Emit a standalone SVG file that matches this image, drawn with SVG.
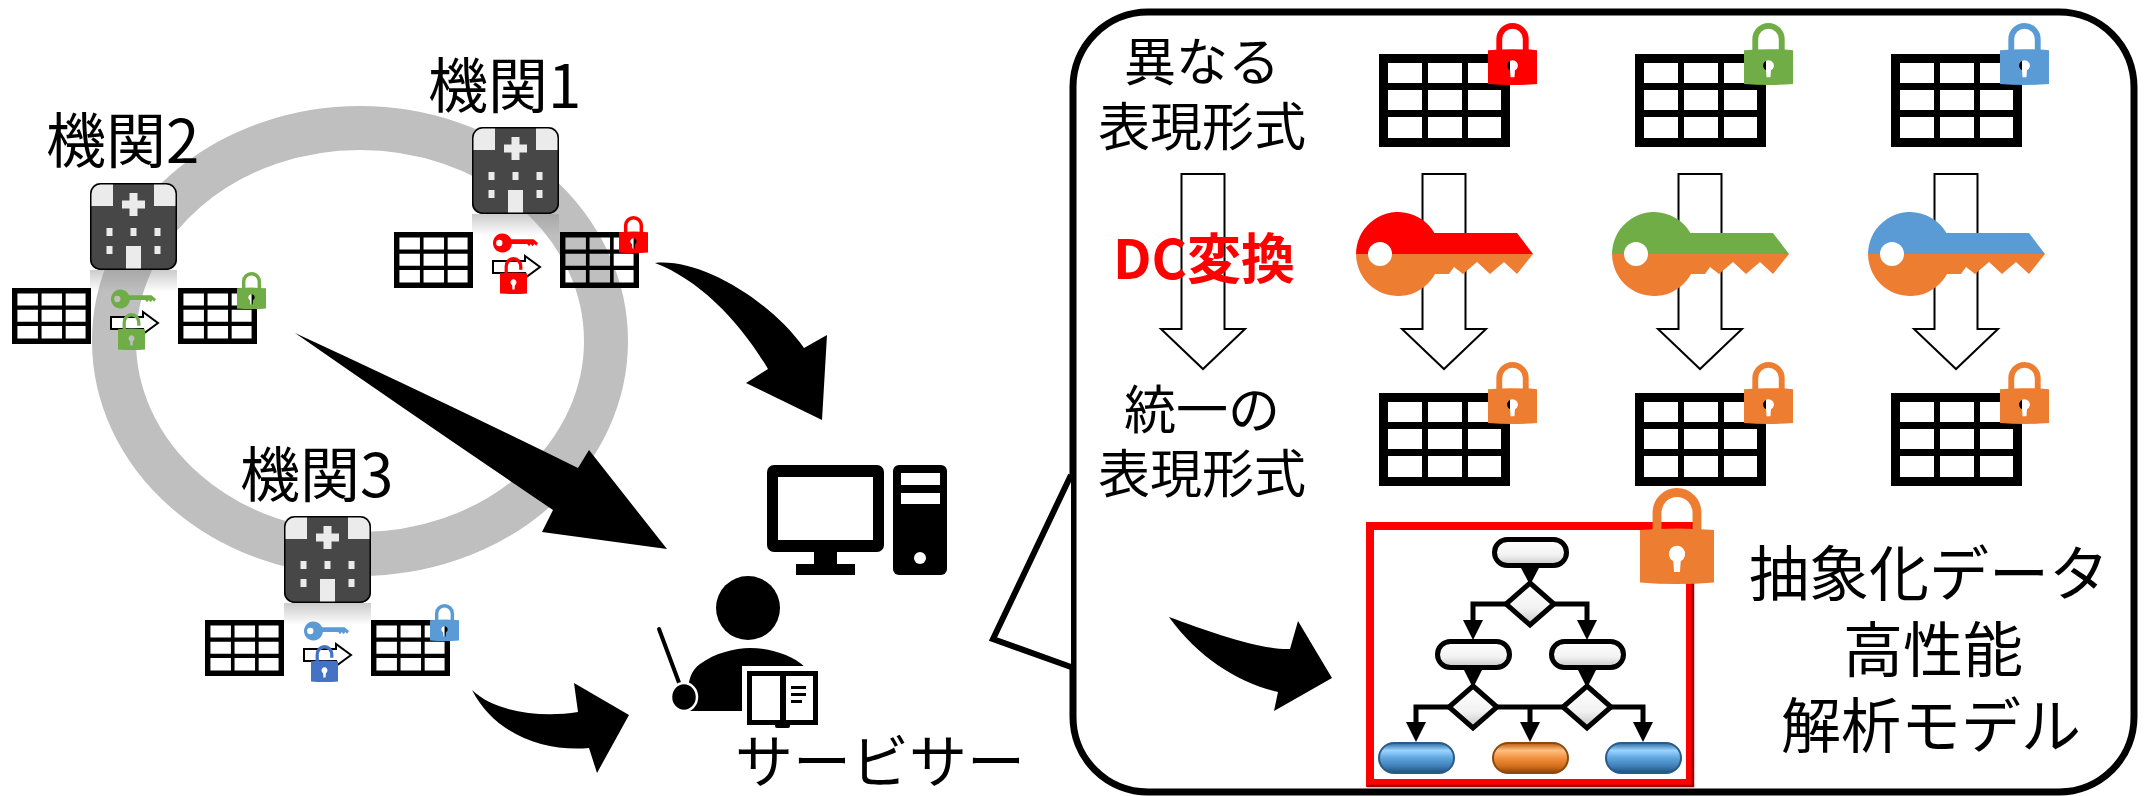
<svg xmlns="http://www.w3.org/2000/svg" xmlns:xlink="http://www.w3.org/1999/xlink" width="2149" height="796" viewBox="0 0 2149 796">
<style>
  .jp { font-family: "Noto Sans CJK JP", "Noto Sans", sans-serif; fill: #000; }
  .lbl { font-size: 60px; }
  .inner { font-size: 52px; text-anchor: middle; }
  .model-txt { font-size: 60px; text-anchor: middle; }
  .dc { font-size: 54px; font-weight: 700; fill: #ff0000; text-anchor: middle; }
  .big { fill: #000; }
  .fc { stroke: #000; stroke-width: 5; }
</style>
<defs>
  <!-- 3x3 data table, cells left open -->
  <symbol id="tbl" viewBox="0 0 131 93" preserveAspectRatio="none">
    <path fill="#000" fill-rule="evenodd" d="M0,0 H131 V93 H0 Z
      M9,9 H43 V29 H9 Z M49,9 H83 V29 H49 Z M89,9 H122 V29 H89 Z
      M9,36 H43 V56 H9 Z M49,36 H83 V56 H49 Z M89,36 H122 V56 H89 Z
      M9,63 H43 V84 H9 Z M49,63 H83 V84 H49 Z M89,63 H122 V84 H89 Z"/>
  </symbol>

  <!-- hospital building -->
  <clipPath id="bclip"><rect x="0" y="0" width="87" height="87" rx="10"/></clipPath>
  <symbol id="bld" viewBox="0 0 87 87" overflow="visible">
    <g clip-path="url(#bclip)">
      <rect width="87" height="87" fill="#474747"/>
      <rect width="23" height="23" fill="#ebebeb"/>
      <rect x="64" width="23" height="23" fill="#ebebeb"/>
      <rect x="36" y="63" width="15" height="24" fill="#ebebeb"/>
    </g>
    <rect x="0.75" y="0.75" width="85.5" height="85.5" rx="10" fill="none" stroke="#000" stroke-width="1.5"/>
    <path fill="#ebebeb" d="M39.5,10 h8 v7.5 h7.5 v8 h-7.5 v7.5 h-8 v-7.5 h-7.5 v-8 h7.5 Z"/>
    <g fill="#ebebeb">
      <rect x="16.5" y="45" width="6" height="8"/>
      <rect x="40.5" y="45" width="6" height="8"/>
      <rect x="64.5" y="45" width="6" height="8"/>
      <rect x="16.5" y="63" width="6" height="8"/>
      <rect x="64.5" y="63" width="6" height="8"/>
    </g>
  </symbol>
  <linearGradient id="refl" x1="0" y1="0" x2="0" y2="1">
    <stop offset="0" stop-color="#8c8c8c" stop-opacity="0.45"/>
    <stop offset="1" stop-color="#8c8c8c" stop-opacity="0"/>
  </linearGradient>

  <!-- small hollow right arrow -->
  <symbol id="rarr" viewBox="0 0 49 24" preserveAspectRatio="none" overflow="visible">
    <path d="M1,6 H33 V1 L48,12 L33,23 V18 H1 Z" fill="#fff" stroke="#000" stroke-width="2"/>
  </symbol>

  <!-- large hollow down arrow -->
  <symbol id="darr" viewBox="0 0 86 197" overflow="visible">
    <path d="M21.5,1 H64.5 V156 H85 L43,196 L1,156 H21.5 Z" fill="#fff" stroke="#000" stroke-width="2"/>
  </symbol>

  <!-- small solid key -->
  <symbol id="skey" viewBox="0 0 100 44" preserveAspectRatio="none">
    <path fill-rule="evenodd" d="M40.4,14 H90 L100,22 L96,28 L92,24 L88,29 L84,24 L80,29 L76,24 H41.9 A21,21 0 1 1 40.4,14 Z
      M7,22 a7,7 0 1 0 14,0 a7,7 0 1 0 -14,0 Z"/>
  </symbol>

  <!-- large two-tone key -->
  <clipPath id="kTop"><rect x="-5" y="-5" width="190" height="47"/></clipPath>
  <clipPath id="kBot"><rect x="-5" y="42" width="190" height="50"/></clipPath>
  <path id="bkeyShape" fill-rule="evenodd" d="M78.4,21 L161,21 L177,42 L161,62 L148,50 L134,62 L121,50 L107,62 L98,55 L93,62 L79,62 A42,42 0 1 1 78.4,21 Z
      M12,42 a12,12 0 1 0 24,0 a12,12 0 1 0 -24,0 Z"/>
  <symbol id="bkey" viewBox="0 0 177 85" overflow="visible">
    <use href="#bkeyShape" fill="currentColor" clip-path="url(#kTop)"/>
    <use href="#bkeyShape" fill="#ed7d31" clip-path="url(#kBot)"/>
  </symbol>

  <!-- padlocks -->
  <symbol id="lockC" viewBox="0 0 50 64" preserveAspectRatio="none" overflow="visible">
    <path d="M11.5,30 V16.5 A13.5,13.5 0 0 1 38.5,16.5 V30" fill="none" stroke="currentColor" stroke-width="6"/>
    <path fill="currentColor" fill-rule="evenodd" d="M0,28 Q25,26 50,28 V63 Q25,65 0,63 Z
      M22.5,48.9 A5.5,5.5 0 1 1 27.5,48.9 L27,56 H23 Z"/>
  </symbol>
  <symbol id="lockO" viewBox="0 0 50 64" preserveAspectRatio="none" overflow="visible">
    <path d="M11.5,31 V16.5 A13.5,13.5 0 0 1 38.5,16.5 V22" fill="none" stroke="currentColor" stroke-width="6"/>
    <path fill="currentColor" fill-rule="evenodd" d="M0,28 Q25,26 50,28 V63 Q25,65 0,63 Z
      M22.5,48.9 A5.5,5.5 0 1 1 27.5,48.9 L27,56 H23 Z"/>
  </symbol>

  <!-- flowchart fills -->
  <linearGradient id="wg" x1="0" y1="0" x2="0" y2="1">
    <stop offset="0" stop-color="#ffffff"/>
    <stop offset="0.6" stop-color="#f2f2f2"/>
    <stop offset="1" stop-color="#c4c4c4"/>
  </linearGradient>
  <linearGradient id="bg" x1="0" y1="0" x2="0" y2="1">
    <stop offset="0" stop-color="#2d6aa0"/>
    <stop offset="0.25" stop-color="#9ad4ff"/>
    <stop offset="0.5" stop-color="#5fa6de"/>
    <stop offset="0.8" stop-color="#3c7ab3"/>
    <stop offset="1" stop-color="#1f4e79"/>
  </linearGradient>
  <linearGradient id="og" x1="0" y1="0" x2="0" y2="1">
    <stop offset="0" stop-color="#b85a10"/>
    <stop offset="0.25" stop-color="#ffbf80"/>
    <stop offset="0.5" stop-color="#f29240"/>
    <stop offset="0.8" stop-color="#d06a18"/>
    <stop offset="1" stop-color="#8a4008"/>
  </linearGradient>
</defs>

<rect width="2149" height="796" fill="#fff"/>

<!-- federation ring -->
<ellipse id="ring" cx="360" cy="341" rx="246" ry="213" fill="none" stroke="#bfbfbf" stroke-width="44"/>

<!-- institution 1 -->
<g id="inst1" transform="translate(394,232)">
  <text class="jp lbl" x="34" y="-124">機関1</text>
  <use href="#bld" x="78" y="-105" width="87" height="87"/>
  <rect x="78" y="-18" width="87" height="22" fill="url(#refl)"/>
  <use href="#tbl" x="0" y="0" width="79" height="56"/>
  <use href="#rarr" x="98" y="23" width="49" height="24"/>
  <use href="#skey" x="99" y="1" width="45" height="20" fill="#ff0000"/>
  <use href="#lockO" x="106" y="25" width="27" height="37" color="#ff0000"/>
  <use href="#tbl" x="166" y="0" width="79" height="56"/>
  <use href="#lockC" x="225" y="-16" width="29" height="37" color="#ff0000"/>
</g>

<!-- institution 2 -->
<g id="inst2" transform="translate(12,288)">
  <text class="jp lbl" x="34" y="-125">機関2</text>
  <use href="#bld" x="78" y="-105" width="87" height="87"/>
  <rect x="78" y="-18" width="87" height="22" fill="url(#refl)"/>
  <use href="#tbl" x="0" y="0" width="79" height="56"/>
  <use href="#rarr" x="98" y="23" width="49" height="24"/>
  <use href="#skey" x="99" y="1" width="45" height="20" fill="#70ad47"/>
  <use href="#lockO" x="106" y="25" width="27" height="37" color="#70ad47"/>
  <use href="#tbl" x="166" y="0" width="79" height="56"/>
  <use href="#lockC" x="225" y="-16" width="29" height="37" color="#70ad47"/>
</g>

<!-- institution 3 -->
<g id="inst3" transform="translate(205,620)">
  <text class="jp lbl" x="35" y="-123">機関3</text>
  <use href="#bld" x="79" y="-104" width="87" height="87"/>
  <rect x="79" y="-17" width="87" height="22" fill="url(#refl)"/>
  <use href="#tbl" x="0" y="0" width="79" height="56"/>
  <use href="#rarr" x="98" y="23" width="49" height="24"/>
  <use href="#skey" x="99" y="1" width="45" height="20" fill="#5b9bd5"/>
  <use href="#lockO" x="106" y="25" width="27" height="37" color="#4472c4"/>
  <use href="#tbl" x="166" y="0" width="79" height="56"/>
  <use href="#lockC" x="225" y="-16" width="29" height="37" color="#5b9bd5"/>
</g>

<!-- servicer: computer and analyst -->
<g id="servicer">
  <rect x="767" y="465" width="117" height="87" rx="7" fill="#000"/>
  <rect x="778" y="477" width="95" height="63" fill="#fff"/>
  <rect x="814" y="551" width="23" height="14" fill="#000"/>
  <rect x="796" y="564" width="59" height="11" fill="#000"/>
  <rect x="893" y="465" width="54" height="110" rx="6" fill="#000"/>
  <rect x="901" y="473" width="39" height="12" fill="#fff"/>
  <rect x="901" y="493" width="39" height="11" fill="#fff"/>
  <circle cx="920" cy="558" r="6" fill="#fff"/>

  <circle cx="748" cy="608" r="32" fill="#000"/>
  <path d="M689,711 C686,690 688,672 700,664 C715,653 735,648 750,648 C770,648 792,655 805,667 L805,711 Z" fill="#000"/>
  <line x1="659" y1="629" x2="681" y2="688" stroke="#000" stroke-width="4" stroke-linecap="round"/>
  <ellipse cx="684" cy="697" rx="13" ry="14" fill="#000" stroke="#fff" stroke-width="2.5"/>
  <rect x="742" y="666" width="80" height="62" fill="#fff"/>
  <rect x="747" y="671" width="71" height="54" fill="#000"/>
  <rect x="752" y="676" width="28" height="44" fill="#fff"/>
  <rect x="786" y="676" width="27" height="44" fill="#fff"/>
  <rect x="791" y="686" width="15" height="3" fill="#000"/>
  <rect x="791" y="693" width="15" height="3" fill="#000"/>
  <rect x="791" y="700" width="11" height="3" fill="#000"/>
  <rect x="775" y="723" width="15" height="5" rx="2" fill="#000"/>

  <text class="jp" x="735" y="783" font-size="58">サービサー</text>
</g>

<!-- flow arrows -->
<g id="connectors">
  <path class="big" d="M655,263 C700,258 770,300 804,348 L827,335 L822,420 L746,383 L768,369 C740,322 700,280 655,263 Z"/>
  <path class="big" d="M295,333 Q440,400 578,468 L589,450 L667,549 L542,532 L553,510 Q420,420 295,333 Z"/>
  <path class="big" d="M472,690 C495,712 540,718 578,712 L574,683 L629,715 L597,773 L589,748 C545,752 495,735 472,690 Z"/>
  <path class="big" d="M1169,617 C1210,632 1260,650 1290,649 L1298,621 L1332,678 L1274,711 L1278,692 C1240,683 1200,660 1169,617 Z"/>
</g>

<!-- detail callout -->
<g id="callout">
  <rect x="1073" y="12" width="1061" height="780" rx="75" fill="none" stroke="#000" stroke-width="7"/>
  <polyline points="1071,475 993,639 1071,667" fill="#fff" stroke="#000" stroke-width="6"/>
</g>

<g id="row-labels">
  <text class="jp inner"><tspan x="1202" y="81">異なる</tspan><tspan x="1202" y="146">表現形式</tspan></text>
  <use href="#darr" x="1160" y="173" width="86" height="197"/>
  <text class="jp dc" x="1204" y="279">DC変換</text>
  <text class="jp inner"><tspan x="1202" y="429">統一の</tspan><tspan x="1202" y="493">表現形式</tspan></text>
</g>

<g id="col1">
  <use href="#tbl" x="1379" y="54" width="131" height="93"/>
  <use href="#lockC" x="1488" y="23" width="49" height="62" color="#ff0000"/>
  <use href="#darr" x="1401" y="173" width="86" height="197"/>
  <use href="#bkey" x="1356" y="212" width="177" height="85" color="#ff0000"/>
  <use href="#tbl" x="1379" y="393" width="131" height="93"/>
  <use href="#lockC" x="1488" y="362" width="49" height="62" color="#ed7d31"/>
</g>

<g id="col2">
  <use href="#tbl" x="1635" y="54" width="131" height="93"/>
  <use href="#lockC" x="1744" y="23" width="49" height="62" color="#70ad47"/>
  <use href="#darr" x="1657" y="173" width="86" height="197"/>
  <use href="#bkey" x="1612" y="212" width="177" height="85" color="#70ad47"/>
  <use href="#tbl" x="1635" y="393" width="131" height="93"/>
  <use href="#lockC" x="1744" y="362" width="49" height="62" color="#ed7d31"/>
</g>

<g id="col3">
  <use href="#tbl" x="1891" y="54" width="131" height="93"/>
  <use href="#lockC" x="2000" y="23" width="49" height="62" color="#5b9bd5"/>
  <use href="#darr" x="1913" y="173" width="86" height="197"/>
  <use href="#bkey" x="1868" y="212" width="177" height="85" color="#5b9bd5"/>
  <use href="#tbl" x="1891" y="393" width="131" height="93"/>
  <use href="#lockC" x="2000" y="362" width="49" height="62" color="#ed7d31"/>
</g>

<!-- encrypted analysis model -->
<g id="model">
  <rect x="1370" y="526" width="320" height="257" fill="#fff" stroke="#ff0000" stroke-width="8"/>
  <path d="M1693,523 V786 H1367" fill="none" stroke="#a00000" stroke-width="2.5"/>
  <g class="fc" fill="none">
    <path d="M1506,604 H1473 V624"/>
    <path d="M1554,604 H1587 V624"/>
    <path d="M1449,707 H1416 V726"/>
    <path d="M1497,707 H1563"/>
    <path d="M1530,707 V726"/>
    <path d="M1611,707 H1643 V726"/>
  </g>
  <g fill="#000">
    <polygon points="1520,566 1540,566 1530,585"/>
    <polygon points="1463,620 1483,620 1473,640"/>
    <polygon points="1577,620 1597,620 1587,640"/>
    <polygon points="1463,668 1483,668 1473,688"/>
    <polygon points="1577,668 1597,668 1587,688"/>
    <polygon points="1406,722 1426,722 1416,742"/>
    <polygon points="1520,722 1540,722 1530,742"/>
    <polygon points="1633,722 1653,722 1643,742"/>
  </g>
  <rect class="fc" x="1494.5" y="539.5" width="72" height="26" rx="13" fill="url(#wg)"/>
  <polygon class="fc" points="1530,583 1554,604 1530,625 1506,604" fill="url(#wg)"/>
  <rect class="fc" x="1437.5" y="641.5" width="72" height="26" rx="13" fill="url(#wg)"/>
  <rect class="fc" x="1551.5" y="641.5" width="72" height="26" rx="13" fill="url(#wg)"/>
  <polygon class="fc" points="1473,686 1497,707 1473,728 1449,707" fill="url(#wg)"/>
  <polygon class="fc" points="1587,686 1611,707 1587,728 1563,707" fill="url(#wg)"/>
  <rect x="1379" y="743" width="75" height="30" rx="15" fill="url(#bg)" stroke="#2a5a86" stroke-width="2"/>
  <rect x="1493" y="743" width="75" height="30" rx="15" fill="url(#og)" stroke="#8a4a10" stroke-width="2"/>
  <rect x="1606" y="743" width="75" height="30" rx="15" fill="url(#bg)" stroke="#2a5a86" stroke-width="2"/>
  <use href="#lockC" x="1640" y="488" width="74" height="96" color="#ed7d31"/>
</g>

<g id="model-label">
  <text class="jp model-txt"><tspan x="1929" y="596">抽象化データ</tspan><tspan x="1933" y="672">高性能</tspan><tspan x="1931" y="748">解析モデル</tspan></text>
</g>
</svg>
